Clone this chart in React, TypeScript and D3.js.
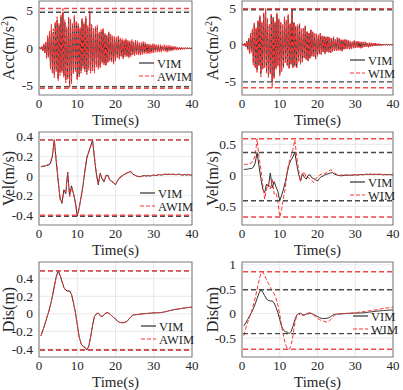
import React, { useRef, useEffect } from 'react';
import * as d3 from 'd3';

// acceleration, sampled every 0.25 s from 0 to 40 s
const ACC_VIM = [
  0, 0.1, -0.1, 0.2,
  -0.3, 0.5, -0.6, 0.8,
  -1.2, 1.5, -1.0, 2.0,
  -2.5, 2.8, -3.0, 2.2,
  -3.5, 3.2, -2.8, 3.8,
  -4.0, 3.0, -3.2, 4.2,
  -3.0, 4.8, -3.6, 3.5,
  -4.2, 2.6, -3.8, 4.0,
  -5.1, 3.6, -4.4, 3.0,
  -3.2, 4.2, -2.8, 3.4,
  -4.0, 3.0, -3.5, 2.6,
  -3.0, 3.8, -2.4, 3.2,
  -2.8, 4.0, -3.2, 2.8,
  -2.6, 4.8, -3.0, 3.0,
  -2.8, 2.4, -3.0, 2.6,
  -2.2, 2.8, -2.5, 2.0,
  -2.4, 2.2, -1.8, 2.5,
  -2.0, 1.8, -2.2, 1.6,
  -1.8, 2.0, -1.5, 1.7,
  -1.6, 1.5, -1.9, 1.4,
  -1.5, 1.3, -1.2, 1.6,
  -1.3, 1.2, -1.0, 1.1,
  -1.2, 1.0, -0.9, 1.1,
  -1.0, 0.9, -1.1, 0.8,
  -0.9, 1.0, -0.8, 0.7,
  -0.8, 0.9, -0.7, 0.8,
  -0.7, 0.6, -0.8, 0.6,
  -0.6, 0.7, -0.5, 0.6,
  -0.5, 0.5, -0.6, 0.4,
  -0.5, 0.4, -0.4, 0.5,
  -0.4, 0.4, -0.3, 0.4,
  -0.35, 0.3, -0.4, 0.3,
  -0.3, 0.3, -0.25, 0.3,
  -0.25, 0.2, -0.3, 0.2,
  -0.2, 0.2, -0.2, 0.15,
  -0.15, 0.2, -0.15, 0.1,
  -0.12, 0.12, -0.1, 0.1,
  -0.1, 0.1, -0.08, 0.08,
  -0.06, 0.06, -0.05, 0.05,
  -0.04, 0.04, -0.02, 0.02, 0,
];
const ACC_AWIM = [
  0, 0.15, -0.15, 0.25,
  -0.35, 0.6, -0.7, 0.9,
  -1.4, 1.7, -1.2, 2.3,
  -2.8, 3.2, -3.4, 2.6,
  -3.9, 3.6, -3.1, 4.2,
  -4.3, 3.4, -3.6, 4.6,
  -3.3, 5.3, -3.9, 3.8,
  -4.6, 2.9, -4.1, 4.3,
  -5.3, 3.9, -4.7, 3.3,
  -3.5, 4.5, -3.1, 3.7,
  -4.3, 3.3, -3.8, 2.9,
  -3.3, 4.1, -2.7, 3.5,
  -3.1, 4.3, -3.5, 3.1,
  -2.9, 5.0, -3.3, 3.3,
  -3.1, 2.7, -3.3, 2.9,
  -2.5, 3.1, -2.8, 2.3,
  -2.6, 2.5, -2.0, 2.7,
  -2.2, 2.0, -2.4, 1.8,
  -2.0, 2.2, -1.7, 1.9,
  -1.8, 1.7, -2.1, 1.6,
  -1.7, 1.5, -1.4, 1.8,
  -1.5, 1.4, -1.2, 1.3,
  -1.4, 1.2, -1.1, 1.3,
  -1.2, 1.1, -1.3, 1.0,
  -1.1, 1.2, -1.0, 0.9,
  -1.0, 1.1, -0.9, 1.0,
  -0.9, 0.8, -1.0, 0.8,
  -0.8, 0.9, -0.7, 0.8,
  -0.7, 0.7, -0.8, 0.6,
  -0.7, 0.6, -0.6, 0.7,
  -0.6, 0.6, -0.5, 0.6,
  -0.5, 0.5, -0.6, 0.5,
  -0.5, 0.5, -0.4, 0.5,
  -0.4, 0.4, -0.5, 0.4,
  -0.4, 0.4, -0.35, 0.3,
  -0.3, 0.35, -0.3, 0.25,
  -0.25, 0.25, -0.2, 0.2,
  -0.2, 0.2, -0.15, 0.15,
  -0.12, 0.12, -0.1, 0.1,
  -0.08, 0.08, -0.05, 0.05, 0,
];
const ACC_WIM = [
  0, 0.12, -0.12, 0.22,
  -0.35, 0.55, -0.7, 0.9,
  -1.3, 1.6, -1.2, 2.2,
  -2.8, 3.0, -3.3, 2.4,
  -3.8, 3.4, -3.0, 4.0,
  -4.4, 3.2, -3.5, 4.4,
  -3.2, 4.95, -3.9, 3.6,
  -4.5, 2.8, -4.0, 4.2,
  -5.9, 3.8, -4.8, 3.2,
  -3.4, 4.4, -3.0, 3.6,
  -4.3, 3.2, -3.7, 2.8,
  -3.2, 3.9, -2.6, 3.4,
  -3.0, 4.2, -3.4, 3.0,
  -2.8, 4.7, -3.2, 3.1,
  -3.0, 2.6, -3.2, 2.8,
  -2.4, 2.9, -2.7, 2.2,
  -2.5, 2.3, -1.9, 2.6,
  -2.1, 1.9, -2.3, 1.7,
  -1.9, 2.1, -1.6, 1.8,
  -1.7, 1.6, -2.0, 1.5,
  -1.6, 1.4, -1.3, 1.7,
  -1.4, 1.3, -1.1, 1.2,
  -1.3, 1.1, -1.0, 1.2,
  -1.1, 1.0, -1.2, 0.9,
  -1.0, 1.1, -0.9, 0.8,
  -0.9, 1.0, -0.8, 0.9,
  -0.8, 0.7, -0.9, 0.7,
  -0.7, 0.8, -0.6, 0.7,
  -0.6, 0.6, -0.7, 0.5,
  -0.6, 0.5, -0.5, 0.6,
  -0.5, 0.5, -0.4, 0.5,
  -0.4, 0.4, -0.5, 0.4,
  -0.4, 0.4, -0.3, 0.4,
  -0.3, 0.3, -0.4, 0.3,
  -0.3, 0.3, -0.25, 0.2,
  -0.2, 0.25, -0.2, 0.15,
  -0.15, 0.15, -0.12, 0.12,
  -0.1, 0.1, -0.08, 0.08,
  -0.06, 0.06, -0.04, 0.04,
  -0.03, 0.03, -0.02, 0.02, 0,
];

// velocity and displacement, sampled every 0.5 s from 0.5 to 40 s
const VEL_VIM = [
  0.095, 0.1, 0.1, 0.11, 0.11, 0.13, 0.2, 0.37, 0.15, -0.05,
  -0.22, -0.28, -0.14, -0.18, 0.04, -0.2, -0.1, -0.18, -0.26, -0.41,
  -0.32, -0.22, -0.1, 0.05, 0.18, 0.25, 0.3, 0.37, 0.18, 0.02,
  -0.09, 0.03, -0.03, -0.06, 0.0, 0.01, -0.04, -0.05, -0.07, -0.09,
  -0.05, -0.02, -0.01, 0.01, 0.02, 0.03, 0.04, 0.045, 0.02, 0.01,
  0.0, -0.005, -0.007, 0.0, 0.005, 0.0, 0.005, 0.0, 0.005, 0.01,
  0.005, 0.01, 0.015, 0.01, 0.015, 0.02, 0.015, 0.02, 0.015, 0.02,
  0.015, 0.015, 0.02, 0.015, 0.01, 0.015, 0.01, 0.015, 0.01, 0.01,
];
const VEL_AWIM = [
  0.095, 0.1, 0.105, 0.11, 0.12, 0.14, 0.22, 0.37, 0.17, -0.03,
  -0.24, -0.27, -0.16, -0.16, 0.03, -0.21, -0.12, -0.17, -0.28, -0.4,
  -0.34, -0.2, -0.09, 0.06, 0.2, 0.24, 0.31, 0.36, 0.2, 0.03,
  -0.08, 0.02, -0.02, -0.05, 0.01, 0.0, -0.04, -0.06, -0.07, -0.08,
  -0.05, -0.02, 0.0, 0.01, 0.02, 0.035, 0.04, 0.05, 0.02, 0.01,
  0.0, -0.005, -0.005, 0.0, 0.005, 0.0, 0.005, 0.005, 0.005, 0.01,
  0.005, 0.01, 0.015, 0.01, 0.015, 0.02, 0.015, 0.02, 0.015, 0.02,
  0.015, 0.015, 0.02, 0.015, 0.01, 0.015, 0.01, 0.015, 0.01, 0.01,
];
const VEL_WIM = [
  0.17, 0.18, 0.18, 0.19, 0.2, 0.24, 0.32, 0.59, 0.3, 0.1,
  -0.15, -0.38, -0.22, -0.14, -0.22, -0.05, -0.3, -0.28, -0.42, -0.67,
  -0.55, -0.35, -0.2, 0.08, 0.22, 0.32, 0.42, 0.57, 0.3, 0.08,
  -0.1, 0.02, 0.06, -0.04, -0.03, -0.06, -0.08, -0.12, -0.06, -0.02,
  0.0, 0.02, 0.04, 0.03, 0.05, 0.07, 0.09, 0.07, 0.04, 0.02,
  0.01, 0.0, 0.01, 0.005, 0.01, 0.005, 0.01, 0.005, 0.01, 0.01,
  0.005, 0.01, 0.015, 0.01, 0.015, 0.02, 0.015, 0.02, 0.015, 0.02,
  0.015, 0.02, 0.02, 0.015, 0.01, 0.015, 0.01, 0.015, 0.01, 0.01,
];
const DIS_VIM = [
  -0.25, -0.19, -0.12, -0.05, 0.02, 0.1, 0.2, 0.31, 0.42, 0.49,
  0.44, 0.37, 0.3, 0.27, 0.26, 0.26, 0.22, 0.13, 0.02, -0.12,
  -0.26, -0.34, -0.37, -0.38, -0.41, -0.37, -0.26, -0.13, -0.03, 0.0,
  0.01, -0.02, -0.03, -0.01, 0.01, 0.015, 0.0, -0.02, -0.04, -0.06,
  -0.08, -0.095, -0.1, -0.1, -0.095, -0.085, -0.06, -0.035, -0.015, -0.01,
  -0.008, -0.005, -0.003, 0.0, 0.002, 0.004, 0.006, 0.008, 0.01, 0.012,
  0.012, 0.013, 0.014, 0.016, 0.02, 0.025, 0.03, 0.035, 0.04, 0.045,
  0.05, 0.053, 0.056, 0.06, 0.063, 0.066, 0.069, 0.072, 0.075, 0.077,
];
const DIS_AWIM = [
  -0.25, -0.19, -0.12, -0.05, 0.02, 0.1, 0.2, 0.31, 0.42, 0.49,
  0.45, 0.37, 0.3, 0.27, 0.26, 0.26, 0.22, 0.13, 0.02, -0.12,
  -0.26, -0.34, -0.37, -0.38, -0.41, -0.37, -0.26, -0.13, -0.03, 0.0,
  0.01, -0.02, -0.03, -0.01, 0.01, 0.015, 0.0, -0.02, -0.04, -0.06,
  -0.08, -0.095, -0.1, -0.1, -0.095, -0.085, -0.06, -0.035, -0.015, -0.01,
  -0.008, -0.005, -0.003, 0.0, 0.002, 0.004, 0.006, 0.008, 0.01, 0.012,
  0.012, 0.013, 0.014, 0.016, 0.02, 0.025, 0.03, 0.035, 0.04, 0.045,
  0.05, 0.053, 0.056, 0.06, 0.063, 0.066, 0.069, 0.072, 0.075, 0.078,
];
const DIS_WIM = [
  -0.45, -0.3, -0.18, -0.07, 0.04, 0.17, 0.32, 0.5, 0.68, 0.83,
  0.86, 0.78, 0.7, 0.62, 0.54, 0.47, 0.41, 0.32, 0.17, -0.02,
  -0.26, -0.46, -0.63, -0.72, -0.73, -0.66, -0.45, -0.2, -0.04, 0.0,
  -0.04, -0.04, -0.02, -0.015, -0.01, 0.005, 0.0, -0.03, -0.07, -0.1,
  -0.12, -0.14, -0.15, -0.165, -0.175, -0.16, -0.12, -0.07, -0.035, -0.015,
  -0.008, -0.004, 0.0, 0.003, 0.006, 0.008, 0.01, 0.012, 0.015, 0.02,
  0.025, 0.03, 0.035, 0.04, 0.045, 0.05, 0.057, 0.064, 0.07, 0.075,
  0.08, 0.088, 0.095, 0.1, 0.105, 0.11, 0.117, 0.123, 0.13, 0.135,
];

const ACC_T = d3.range(ACC_VIM.length).map(i => i * 0.25);
const VD_T = d3.range(VEL_VIM.length).map(i => 0.5 + i * 0.5);

const X_TICKS = [0, 10, 20, 30, 40];
const ACC_TICKS = [-5, 0, 5];
const VEL_TICKS_L = [-0.4, -0.2, 0, 0.2, 0.4];
const VEL_TICKS_R = [-0.5, 0, 0.5];
const DIS_TICKS_L = [-0.4, -0.2, 0, 0.2, 0.4];
const DIS_TICKS_R = [-0.5, 0, 0.5, 1];

const FONT = "'Liberation Serif', 'Times New Roman', serif";
const BLACK = '#303030';
const RED = '#ff3333';

const COL_L = { left: 39, right: 192, label: 14 };
const COL_R = { left: 242, right: 393, label: 218 };
const ROW_1 = { top: 1, bottom: 95 };
const ROW_2 = { top: 132, bottom: 225 };
const ROW_3 = { top: 262, bottom: 357 };

const panels = [
  { col: COL_L, row: ROW_1, domain: [-6.2, 6.3], ticks: ACC_TICKS, ylab: 'acc', t: ACC_T,
    vim: ACC_VIM, other: ACC_AWIM, name: 'AWIM', leg: { x: 139, y: 63 } },
  { col: COL_R, row: ROW_1, domain: [-6.9, 6.0], ticks: ACC_TICKS, ylab: 'acc', t: ACC_T,
    vim: ACC_VIM, other: ACC_WIM, name: 'WIM', leg: { x: 350, y: 60 } },
  { col: COL_L, row: ROW_2, domain: [-0.5, 0.45], ticks: VEL_TICKS_L, ylab: 'Vel(m/s)', t: VD_T,
    vim: VEL_VIM, other: VEL_AWIM, name: 'AWIM', leg: { x: 140, y: 193 } },
  { col: COL_R, row: ROW_2, domain: [-0.8, 0.7], ticks: VEL_TICKS_R, ylab: 'Vel(m/s)', t: VD_T,
    vim: VEL_VIM, other: VEL_WIM, name: 'WIM', leg: { x: 350, y: 182 } },
  { col: COL_L, row: ROW_3, domain: [-0.49, 0.59], ticks: DIS_TICKS_L, ylab: 'Dis(m)', t: VD_T,
    vim: DIS_VIM, other: DIS_AWIM, name: 'AWIM', leg: { x: 141, y: 326 } },
  { col: COL_R, row: ROW_3, domain: [-0.89, 1.06], ticks: DIS_TICKS_R, ylab: 'Dis(m)', t: VD_T,
    vim: DIS_VIM, other: DIS_WIM, name: 'WIM', leg: { x: 353, y: 316 } },
];

function drawPanel(svg, p) {
  const x = d3.scaleLinear().domain([0, 40]).range([p.col.left, p.col.right]);
  const y = d3.scaleLinear().domain(p.domain).range([p.row.bottom, p.row.top]);
  const g = svg.append('g');

  // grid
  X_TICKS.forEach(t => {
    g.append('line').attr('x1', x(t)).attr('x2', x(t))
      .attr('y1', p.row.top).attr('y2', p.row.bottom)
      .attr('stroke', '#e3e3e3').attr('stroke-width', 0.8);
  });
  p.ticks.forEach(t => {
    g.append('line').attr('x1', p.col.left).attr('x2', p.col.right)
      .attr('y1', y(t)).attr('y2', y(t))
      .attr('stroke', '#e3e3e3').attr('stroke-width', 0.8);
  });

  const line = d3.line().x((d, i) => x(p.t[i])).y(d => y(d));
  g.append('path').attr('d', line(p.vim))
    .attr('fill', 'none').attr('stroke', BLACK).attr('stroke-width', 1);
  g.append('path').attr('d', line(p.other))
    .attr('fill', 'none').attr('stroke', RED).attr('stroke-width', 1)
    .attr('stroke-dasharray', '4,2');

  // max / min reference lines
  const refs = [
    { v: d3.max(p.vim), c: '#4a4a4a' },
    { v: d3.min(p.vim), c: '#4a4a4a' },
    { v: d3.max(p.other), c: '#f04a4a' },
    { v: d3.min(p.other), c: '#f04a4a' },
  ];
  refs.forEach(r => {
    g.append('line').attr('x1', p.col.left + 1).attr('x2', p.col.right - 1)
      .attr('y1', y(r.v)).attr('y2', y(r.v))
      .attr('stroke', r.c).attr('stroke-width', 1.4)
      .attr('stroke-dasharray', '5,3');
  });

  // box
  g.append('rect').attr('x', p.col.left).attr('y', p.row.top)
    .attr('width', p.col.right - p.col.left).attr('height', p.row.bottom - p.row.top)
    .attr('fill', 'none').attr('stroke', '#5a5a5a').attr('stroke-width', 0.8);

  // tick labels
  X_TICKS.forEach(t => {
    g.append('text').attr('x', x(t)).attr('y', p.row.bottom + 13.3)
      .attr('text-anchor', 'middle').attr('font-family', FONT).attr('font-size', 13)
      .attr('fill', '#262626').text(t);
  });
  p.ticks.forEach(t => {
    g.append('text').attr('x', p.col.left - 6).attr('y', y(t) + 4.5)
      .attr('text-anchor', 'end').attr('font-family', FONT).attr('font-size', 13.5)
      .attr('fill', '#262626').text(String(t));
  });

  g.append('text').attr('x', (p.col.left + p.col.right) / 2).attr('y', p.row.bottom + 29.8)
    .attr('text-anchor', 'middle').attr('font-family', FONT).attr('font-size', 15)
    .attr('fill', '#262626').text('Time(s)');

  const yl = g.append('text')
    .attr('transform', `translate(${p.col.label},${(p.row.top + p.row.bottom) / 2}) rotate(-90)`)
    .attr('text-anchor', 'middle').attr('font-family', FONT).attr('font-size', 16)
    .attr('fill', '#262626');
  if (p.ylab === 'acc') {
    yl.append('tspan').text('Acc(m/s');
    yl.append('tspan').attr('font-size', 10).attr('dy', -6).text('2');
    yl.append('tspan').attr('dy', 6).text(')');
  } else {
    yl.text(p.ylab);
  }

  // legend
  const L = p.leg;
  g.append('line').attr('x1', L.x).attr('x2', L.x + 15).attr('y1', L.y).attr('y2', L.y)
    .attr('stroke', BLACK).attr('stroke-width', 1.2);
  g.append('line').attr('x1', L.x).attr('x2', L.x + 15).attr('y1', L.y + 13).attr('y2', L.y + 13)
    .attr('stroke', RED).attr('stroke-width', 1.2).attr('stroke-dasharray', '4,2');
  g.append('text').attr('x', L.x + 18).attr('y', L.y + 4.5)
    .attr('font-family', FONT).attr('font-size', 12.5).attr('fill', '#262626').text('VIM');
  g.append('text').attr('x', L.x + 18).attr('y', L.y + 17.5)
    .attr('font-family', FONT).attr('font-size', 12.5).attr('fill', '#262626').text(p.name);
}

export default function App() {
  const ref = useRef(null);
  useEffect(() => {
    const svg = d3.select(ref.current);
    svg.selectAll('*').remove();
    panels.forEach(p => drawPanel(svg, p));
  }, []);
  return (
    <svg ref={ref} width={403} height={390}
      style={{ position: 'absolute', left: 0, top: 0, background: '#fff' }} />
  );
}
